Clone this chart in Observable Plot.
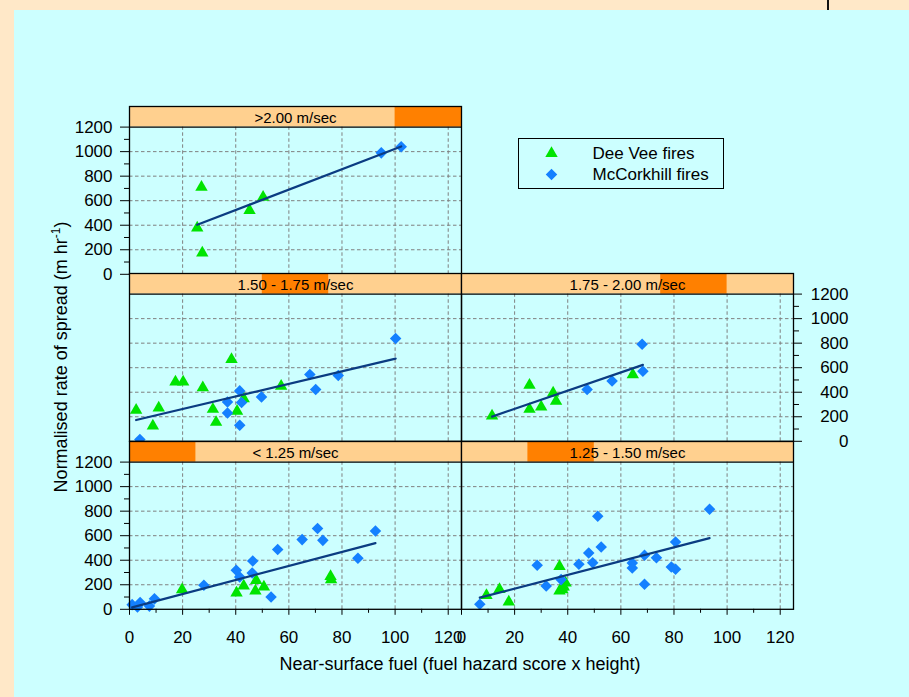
<!DOCTYPE html>
<html>
<head>
<meta charset="utf-8">
<script src="https://cdn.jsdelivr.net/npm/d3@7"></script>
<script src="https://cdn.jsdelivr.net/npm/@observablehq/plot@0.6"></script>
<style>
  html, body { margin: 0; padding: 0; }
  body { width: 909px; height: 697px; overflow: hidden; font-family: "Liberation Sans", Arial, sans-serif; color: #000; }
  #page { position: relative; width: 909px; height: 697px; background: #ffe8c8; overflow: hidden; }
  #inner { position: absolute; left: 14px; top: 10px; right: 0; bottom: 0; background: #ccffff; }
  #mark { position: absolute; left: 827px; top: 0; width: 2px; height: 10px; background: #111; }
  #ytitle { position: absolute; left: 60px; top: 357px; transform: translate(-50%, -50%) rotate(-90deg); white-space: nowrap; font-size: 18px; }
  #ytitle sup { font-size: 12px; }
  #xtitle { position: absolute; left: 460px; top: 664px; transform: translate(-50%, -50%); white-space: nowrap; font-size: 18px; }
</style>
</head>
<body>
<div id="page">
  <div id="inner"></div>
  <div id="mark"></div>
  <div id="ytitle">Normalised rate of spread (m hr<sup>-1</sup>)</div>
  <div id="xtitle">Near-surface fuel (fuel hazard score x height)</div>
</div>
<script>
// ---------- data ----------
const speedClasses = ["< 1.25 m/sec", "1.25 - 1.50 m/sec", "1.50 - 1.75 m/sec", "1.75 - 2.00 m/sec", ">2.00 m/sec"];
const seriesNames = ["Dee Vee fires", "McCorkhill fires"];
const xTicks = [0, 20, 40, 60, 80, 100, 120];
const xMinorTicks = [10, 30, 50, 70, 90, 110];
const xGrid = [20, 40, 60, 80, 100, 120];
const yTicks = [0, 200, 400, 600, 800, 1000, 1200];
const yMinorTicks = [100, 300, 500, 700, 900, 1100];
const yGrid = [200, 400, 600, 800, 1000];

// >2.00 m/sec
const deeVeeOver200 = [[27.1,710],[25.5,378],[27.4,174],[45.2,520],[50.3,628]];
const mcCorkhillOver200 = [[94.8,990],[102.3,1039]];
// 1.75 - 2.00 m/sec
const deeVee175to200 = [[11.5,207],[25.6,457],[25.6,261],[30.0,280],[34.5,394],[35.6,327],[64.5,544]];
const mcCorkhill175to200 = [[47.3,422],[56.7,492],[68.0,792],[68.3,571]];
// 1.50 - 1.75 m/sec
const deeVee150to175 = [[2.5,253],[8.8,125],[11.0,272],[17.3,484],[20.2,484],[27.6,438],[31.4,261],[32.6,155],[38.4,667],[40.5,245],[43.0,348],[57.1,449]];
const mcCorkhill150to175 = [[3.9,14],[36.9,321],[36.9,231],[41.5,411],[42.2,316],[41.5,131],[49.7,362],[67.9,544],[70.1,422],[78.6,536],[100.2,838]];
// 1.25 - 1.50 m/sec
const deeVee125to150 = [[9.4,114],[14.3,163],[17.8,60],[36.9,350],[36.9,149],[38.5,182],[39.2,214],[38.0,160]];
const mcCorkhill125to150 = [[6.9,41],[28.5,359],[31.9,190],[37.5,242],[44.2,367],[47.9,459],[49.4,380],[51.3,758],[52.6,508],[64.3,377],[64.3,337],[68.9,440],[68.9,204],[73.4,421],[79.0,345],[80.6,326],[80.6,549],[93.4,815]];
// < 1.25 m/sec
const deeVeeUnder125 = [[19.8,160],[40.3,133],[43.0,190],[47.7,236],[47.4,149],[50.6,182],[75.7,269],[75.9,242]];
const mcCorkhillUnder125 = [[1.0,38],[3.0,18],[4.0,56],[7.5,26],[9.4,85],[28.0,196],[40.2,318],[41.5,263],[46.4,394],[46.2,296],[53.3,100],[55.8,487],[65.0,568],[70.8,658],[72.8,562],[86.0,416],[92.6,638]];

// ---------- layout / style ----------
const X_MAX = 125, Y_MAX = 1200;
const PLOT_H = 147.2, STRIP_H = 20.6, PLOT_W = 332;
const yTop = Y_MAX * (PLOT_H + STRIP_H) / PLOT_H;
const mL = 60, mR = 60, mT = 2, mB = 48;
const colLeft = [129, 461];
const rowTop = [105.7, 273.3, 441.0];
const GREEN = "#00e400", BLUE = "#1480ff", NAVY = "#0b3c82";
const PEACH = "#ffd08f", ORANGE = "#ff8000", GRID = "#808080";
const FONT = "'Liberation Sans', Arial, sans-serif";
const R_TRI = 4.6, R_DIA = 5.2;
const plain = d => String(d);

const panels = [
  {cls: 4, row: 0, col: 0, dee: deeVeeOver200, mcc: mcCorkhillOver200, yAxis: "left", xAxis: false},
  {cls: 2, row: 1, col: 0, dee: deeVee150to175, mcc: mcCorkhill150to175, yAxis: null, xAxis: false},
  {cls: 3, row: 1, col: 1, dee: deeVee175to200, mcc: mcCorkhill175to200, yAxis: "right", xAxis: false},
  {cls: 0, row: 2, col: 0, dee: deeVeeUnder125, mcc: mcCorkhillUnder125, yAxis: "left", xAxis: true},
  {cls: 1, row: 2, col: 1, dee: deeVee125to150, mcc: mcCorkhill125to150, yAxis: null, xAxis: true}
];

const page = document.getElementById("page");
const segW = X_MAX / speedClasses.length;

for (const p of panels) {
  const pts = [
    ...p.dee.map(([x, y]) => ({x, y, series: seriesNames[0]})),
    ...p.mcc.map(([x, y]) => ({x, y, series: seriesNames[1]}))
  ];
  const marks = [
    // strip
    Plot.rect([p.cls], {x1: 0, x2: X_MAX, y1: Y_MAX, y2: yTop, fill: PEACH}),
    Plot.rect([p.cls], {x1: d => d * segW, x2: d => (d + 1) * segW, y1: Y_MAX, y2: yTop, fill: ORANGE}),
    Plot.text([speedClasses[p.cls]], {x: X_MAX / 2, y: (Y_MAX + yTop) / 2, text: d => d, fontSize: 15, dy: 1, fill: "#000"}),
    // grid
    Plot.ruleX(xGrid, {y1: 0, y2: Y_MAX, stroke: GRID, strokeDasharray: "3.5,2.5", strokeWidth: 1}),
    Plot.ruleY(yGrid, {x1: 0, x2: X_MAX, stroke: GRID, strokeDasharray: "3.5,2.5", strokeWidth: 1}),
    // points
    Plot.dot(pts.filter(d => d.series === seriesNames[0]), {x: "x", y: "y", symbol: "triangle", r: R_TRI, fill: GREEN}),
    Plot.dot(pts.filter(d => d.series === seriesNames[1]), {x: "x", y: "y", symbol: "diamond2", r: R_DIA, fill: BLUE}),
    // regression line
    Plot.linearRegressionY(pts, {x: "x", y: "y", ci: 0, stroke: NAVY, strokeWidth: 2.2}),
    // frame
    Plot.ruleY([Y_MAX], {x1: 0, x2: X_MAX, stroke: "#000", strokeWidth: 1.2}),
    Plot.frame({stroke: "#000", strokeWidth: 1.3})
  ];
  if (p.yAxis === "left") {
    marks.push(Plot.axisY(yTicks, {anchor: "left", tickSize: 9, tickPadding: 8, fontSize: 17, tickFormat: plain, label: null, stroke: "#000"}));
    marks.push(Plot.axisY(yMinorTicks, {anchor: "left", tickSize: 5, tickFormat: () => "", label: null, stroke: "#000"}));
  } else if (p.yAxis === "right") {
    marks.push(Plot.axisY(yTicks, {anchor: "right", tickSize: 8, tickPadding: 47, textAnchor: "end", fontSize: 17, tickFormat: plain, label: null, stroke: "#000"}));
    marks.push(Plot.axisY(yMinorTicks, {anchor: "right", tickSize: 5, tickFormat: () => "", label: null, stroke: "#000"}));
  }
  if (p.xAxis) {
    marks.push(Plot.axisX(xTicks, {anchor: "bottom", tickSize: 6, tickPadding: 16, fontSize: 17, tickFormat: plain, label: null, stroke: "#000"}));
    marks.push(Plot.axisX(xMinorTicks, {anchor: "bottom", tickSize: 4, tickFormat: () => "", label: null, stroke: "#000"}));
  }
  const svg = Plot.plot({
    width: mL + PLOT_W + mR,
    height: mT + PLOT_H + STRIP_H + mB,
    marginLeft: mL, marginRight: mR, marginTop: mT, marginBottom: mB,
    style: {background: "transparent", overflow: "visible", fontFamily: FONT, fontSize: "17px", color: "#000"},
    x: {domain: [0, X_MAX], axis: null, label: null},
    y: {domain: [0, yTop], axis: null, label: null},
    marks
  });
  svg.style.position = "absolute";
  svg.style.left = (colLeft[p.col] - mL) + "px";
  svg.style.top = (rowTop[p.row] - mT) + "px";
  page.appendChild(svg);
}

// ---------- legend ----------
const leg = d3.select(page).append("svg")
  .attr("width", 207).attr("height", 52)
  .style("position", "absolute").style("left", "517.5px").style("top", "137.5px")
  .style("overflow", "visible");
leg.append("rect").attr("x", 0.5).attr("y", 0.5).attr("width", 205).attr("height", 50)
  .attr("fill", "none").attr("stroke", "#000");
const legItems = [
  {name: seriesNames[0], sym: d3.symbolTriangle, size: Math.PI * R_TRI * R_TRI, color: GREEN},
  {name: seriesNames[1], sym: d3.symbolDiamond2, size: Math.PI * R_DIA * R_DIA, color: BLUE}
];
legItems.forEach((it, i) => {
  const cy = 15.5 + i * 21;
  leg.append("path").attr("d", d3.symbol(it.sym, it.size)()).attr("fill", it.color)
    .attr("transform", `translate(33.5,${cy})`);
  leg.append("text").attr("x", 74.5).attr("y", cy).attr("dy", "0.35em")
    .attr("font-family", FONT).attr("font-size", 17).text(it.name);
});
</script>
</body>
</html>
